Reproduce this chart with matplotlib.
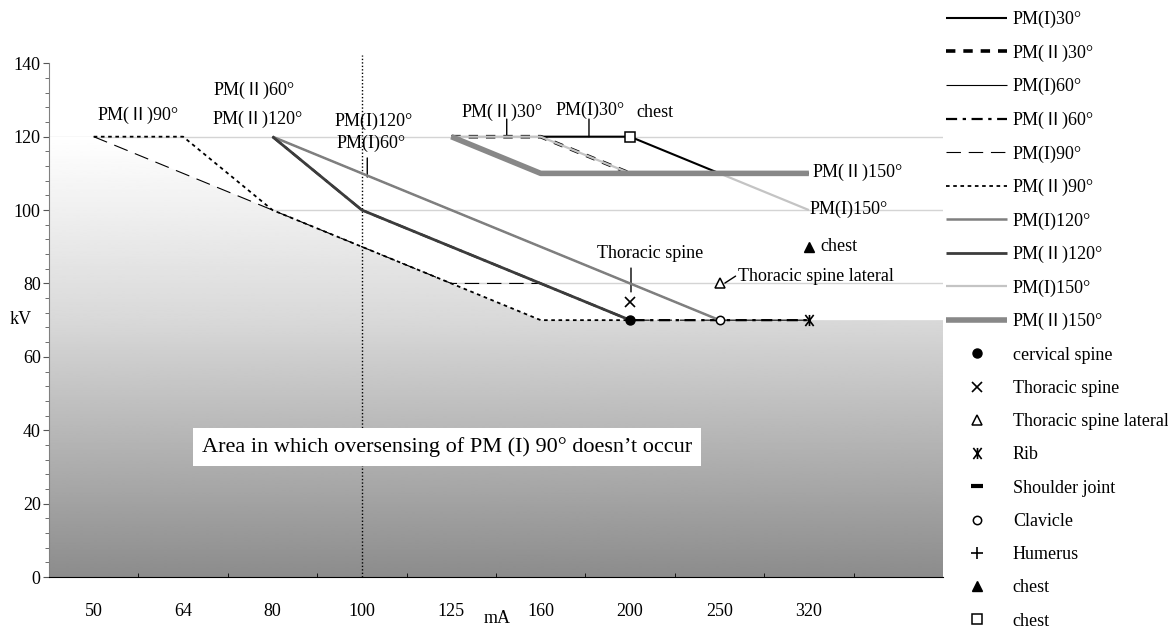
import numpy as np
import matplotlib
matplotlib.use("Agg")
import matplotlib.pyplot as plt
from matplotlib.path import Path
from matplotlib.patches import Polygon
from matplotlib.ticker import MultipleLocator

plt.rcParams['font.family'] = ['Liberation Serif', 'Noto Sans CJK JP', 'DejaVu Sans']

# mA categories (last one is an empty slot on the axis)
mA = ['50', '64', '80', '100', '125', '160', '200', '250', '320', '']

# kV per mA category, None = no point
pm1_30 = [None, None, None, None, None, 120, 120, 110, 110, None]
pm2_30 = [None, None, None, None, 120, 120, 110, 110, None, None]
pm1_60 = [None, None, 120, 110, 100, 90, 80, 70, 70, None]
pm2_60 = [None, None, 120, 100, 90, 80, 70, 70, 70, None]
pm1_90 = [120, 110, 100, 90, 80, 80, 70, 70, None, None]
pm2_90 = [120, 120, 100, 90, 80, 70, 70, None, None, None]
pm1_120 = [None, None, 120, 110, 100, 90, 80, 70, None, None]
pm2_120 = [None, None, 120, 100, 90, 80, 70, None, None, None]
pm1_150 = [None, None, None, None, 120, 120, 110, 110, 100, None]
pm2_150 = [None, None, None, None, 120, 110, 110, 110, 110, None]

# region where PM(I)90 oversensing doesn't occur (upper edge)
safe_area = [120, 110, 100, 90, 80, 70, 70, 70, 70, 70]

# exposure points (mA, kV)
cervical_spine = ('200', 70)
thoracic_spine = ('200', 75)
thoracic_lateral = ('250', 80)
rib = ('320', 70)
clavicle = ('250', 70)
chest_tri = ('320', 90)
chest_sq = ('200', 120)


def arr(v):
    return np.array([np.nan if a is None else a for a in v], dtype=float)


def pos(p):
    return [mA.index(p[0])], [p[1]]


fig = plt.figure(figsize=(11.68, 6.28), dpi=100)
ax = fig.add_axes([49 / 1168, 1 - 577 / 628, 894 / 1168, 513.7 / 628])
x = np.arange(len(mA))

# gridlines behind the gradient
ax.hlines(np.arange(20, 121, 20), -0.5, len(mA) - 0.5, color='#d4d4d4', lw=1, zorder=0)

# gradient area
xs = np.r_[-0.5, x, len(mA) - 0.5]
ys = np.r_[safe_area[0], safe_area, safe_area[-1]]
poly = Polygon(np.c_[np.r_[xs, xs[-1], xs[0]], np.r_[ys, 0, 0]], closed=True,
               facecolor='none', edgecolor='none')
ax.add_patch(poly)
grad = np.interp(np.linspace(0, 120, 256), [0, 70, 120], [0.55, 0.85, 1.0])
im = ax.imshow(grad[:, None], cmap='gray', vmin=0, vmax=1, origin='lower',
               extent=[-0.5, len(mA) - 0.5, 0, 120], aspect='auto', zorder=1,
               interpolation='bilinear')
im.set_clip_path(poly)

# 100 mA reference line
ax.axvline(mA.index('100'), ymin=0, ymax=142.3 / 140, color='black', lw=1,
           ls=(0, (1, 1.5)), clip_on=False, zorder=2)

lines = [
    (pm1_30, 'PM(I)30°', dict(color='black', lw=1.5)),
    (pm2_30, 'PM(Ⅱ)30°', dict(color='black', lw=2.6, ls=(0, (2.6, 2.2)))),
    (pm1_60, 'PM(I)60°', dict(color='black', lw=0.8)),
    (pm2_60, 'PM(Ⅱ)60°', dict(color='black', lw=1.6, ls=(0, (5, 2.5, 1.5, 2.5)))),
    (pm1_90, 'PM(I)90°', dict(color='black', lw=0.8, ls=(0, (13, 7)))),
    (pm2_90, 'PM(Ⅱ)90°', dict(color='black', lw=1.3, ls=(0, (2, 2)))),
    (pm1_120, 'PM(I)120°', dict(color='#7f7f7f', lw=1.8)),
    (pm2_120, 'PM(Ⅱ)120°', dict(color='#3c3c3c', lw=2.0)),
    (pm1_150, 'PM(I)150°', dict(color='#c4c4c4', lw=1.6)),
    (pm2_150, 'PM(Ⅱ)150°', dict(color='#888888', lw=4.0)),
]
handles = []
for i, (vals, lab, st) in enumerate(lines):
    h, = ax.plot(x, arr(vals), label=lab, zorder=3 + i * 0.01, solid_capstyle='butt', **st)
    handles.append(h)

# rib marker: x with vertical bar
rib_marker = Path([(0, -1), (0, 1), (-0.75, -1), (0.75, 1), (-0.75, 1), (0.75, -1)],
                  [Path.MOVETO, Path.LINETO, Path.MOVETO, Path.LINETO, Path.MOVETO, Path.LINETO])

pts = [
    (cervical_spine, 'cervical spine', dict(marker='o', ms=6.5, mfc='black', mec='black')),
    (thoracic_spine, 'Thoracic spine', dict(marker='x', ms=7, mec='black', mew=1.2)),
    (thoracic_lateral, 'Thoracic spine lateral', dict(marker='^', ms=7, mfc='white', mec='black', mew=1.1)),
    (rib, 'Rib', dict(marker=rib_marker, ms=8, mec='black', mew=1.2)),
    (None, 'Shoulder joint', dict(marker='_', ms=8, mec='black', mew=3)),
    (clavicle, 'Clavicle', dict(marker='o', ms=6, mfc='white', mec='black', mew=1.1)),
    (None, 'Humerus', dict(marker='+', ms=9, mec='black', mew=1.2)),
    (chest_tri, 'chest', dict(marker='^', ms=7.5, mfc='black', mec='black')),
    (chest_sq, 'chest', dict(marker='s', ms=7, mfc='white', mec='black', mew=1.1)),
]
for p, lab, st in pts:
    px, py = pos(p) if p is not None else ([], [])
    h, = ax.plot(px, py, ls='none', label=lab, zorder=5, **st)
    handles.append(h)

fs = 13
lead = dict(arrowstyle='-', lw=1, color='black', shrinkA=0, shrinkB=0)
ax.text(0.5, 125.9, 'PM(Ⅱ)90°', ha='center', va='center', fontsize=fs)
ax.text(1.79, 132.7, 'PM(Ⅱ)60°', ha='center', va='center', fontsize=fs)
ax.text(1.83, 124.6, 'PM(Ⅱ)120°', ha='center', va='center', fontsize=fs)
ax.text(3.13, 124.3, 'PM(I)120°', ha='center', va='center', fontsize=fs)
ax.text(3.10, 118.2, 'PM(I)60°', ha='center', va='center', fontsize=fs)
ax.annotate('', xy=(3.06, 109), xytext=(3.06, 114.2), arrowprops=lead)
ax.text(4.57, 126.7, 'PM(Ⅱ)30°', ha='center', va='center', fontsize=fs)
ax.annotate('', xy=(4.62, 120), xytext=(4.62, 124.8), arrowprops=lead)
ax.text(5.55, 127.3, 'PM(I)30°', ha='center', va='center', fontsize=fs)
ax.annotate('', xy=(5.54, 120), xytext=(5.54, 124.8), arrowprops=lead)
ax.text(6.28, 126.7, 'chest', ha='center', va='center', fontsize=fs)
ax.text(8.04, 110.4, 'PM(Ⅱ)150°', ha='left', va='center', fontsize=fs)
ax.text(8.45, 100.3, 'PM(I)150°', ha='center', va='center', fontsize=fs)
ax.text(8.13, 90, 'chest', ha='left', va='center', fontsize=fs)
ax.text(6.22, 88.3, 'Thoracic spine', ha='center', va='center', fontsize=fs)
ax.annotate('', xy=(6.01, 77.7), xytext=(6.01, 84.2), arrowprops=lead)
ax.text(7.21, 81.8, 'Thoracic spine lateral', ha='left', va='center', fontsize=fs)
ax.annotate('', xy=(7.06, 80.1), xytext=(7.18, 82.0), arrowprops=lead)
ax.text(3.95, 35.4, 'Area in which oversensing of PM (I) 90° doesn’t occur',
        ha='center', va='center', fontsize=16, zorder=6,
        bbox=dict(boxstyle='square,pad=0.4', facecolor='white', edgecolor='none'))

# axes
ax.set_xlim(-0.5, len(mA) - 0.5)
ax.set_ylim(0, 140)
ax.set_xticks(x)
ax.set_xticklabels(mA)
ax.set_xticks(np.arange(0.5, len(mA) - 0.5, 1), minor=True)
ax.tick_params(axis='x', which='major', length=0, pad=19, labelsize=fs)
ax.tick_params(axis='x', which='minor', direction='in', length=3, color='black')
ax.set_yticks(np.arange(0, 141, 20))
ax.yaxis.set_minor_locator(MultipleLocator(4))
ax.tick_params(axis='y', which='major', length=4, pad=2, labelsize=fs, color='#555555')
ax.tick_params(axis='y', which='minor', length=3, color='#555555')
for s in ['top', 'right']:
    ax.spines[s].set_visible(False)
ax.spines['left'].set_color('#808080')
ax.spines['bottom'].set_color('black')
ax.set_xlabel('mA', fontsize=fs, va='center')
ax.xaxis.set_label_coords(0.501, -0.08)
ax.set_ylabel('kV', fontsize=fs, rotation=0, ha='center', va='center')
ax.yaxis.set_label_coords(-0.032, 0.502)

fig.legend(handles, [h.get_label() for h in handles], loc='upper left',
           bbox_to_anchor=(946 / 1168, 1 - 11 / 628), frameon=False, fontsize=fs,
           borderpad=0, borderaxespad=0, labelspacing=0.9, handlelength=3.4,
           handletextpad=0.3)

fig.savefig('out.png', dpi=100)
